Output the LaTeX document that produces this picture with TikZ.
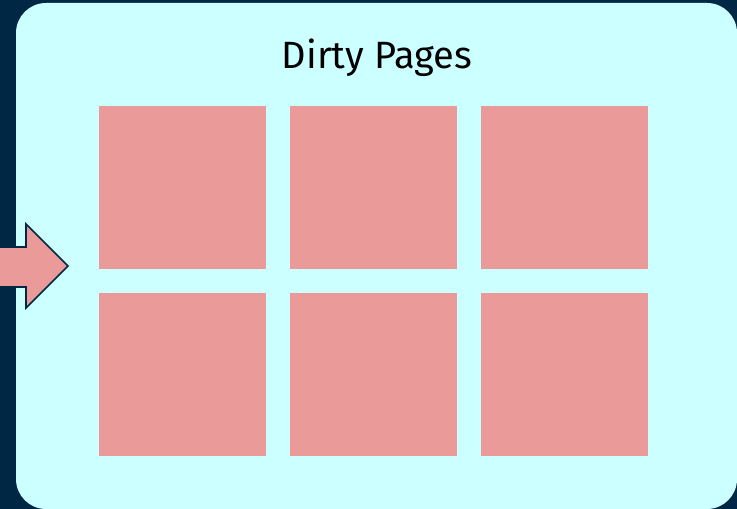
\documentclass[tikz,border=0pt]{standalone}
\usepackage{fontspec}
\setmainfont{Fira Sans}
\definecolor{NightNavy}{HTML}{002744}
\definecolor{PaleCyan}{HTML}{CCFFFF}
\definecolor{DirtyPink}{HTML}{E99A99}
\usetikzlibrary{positioning}

\begin{document}
\begin{tikzpicture}[
  x=0.75pt, y=-0.75pt,
  page/.style={fill=DirtyPink, minimum width=125.25pt, minimum height=122.25pt, inner sep=0pt, anchor=north west},
  title/.style={font=\fontsize{28.5}{34}\selectfont, text=black}
]
  \useasboundingbox (0,0) rectangle (737,509);
  \fill[NightNavy] (0,0) rectangle (737,509);
  \fill[PaleCyan, rounded corners=22.5pt] (16,3) rectangle (737,509);

  \node[title] (dirty) at (377,58) {Dirty Pages};
  \foreach \c/\x in {1/99,2/290,3/481}
    \foreach \r/\y in {1/106,2/293}
      \node[page] (p\r\c) at (\x,\y) {};

  % incoming arrow
  \draw[NightNavy, fill=DirtyPink, line width=1.2pt, line join=miter]
    (-3,247) -- (26,247) -- (26,224) -- (68,266) -- (26,308) -- (26,287) -- (-3,287) -- cycle;
\end{tikzpicture}
\end{document}
